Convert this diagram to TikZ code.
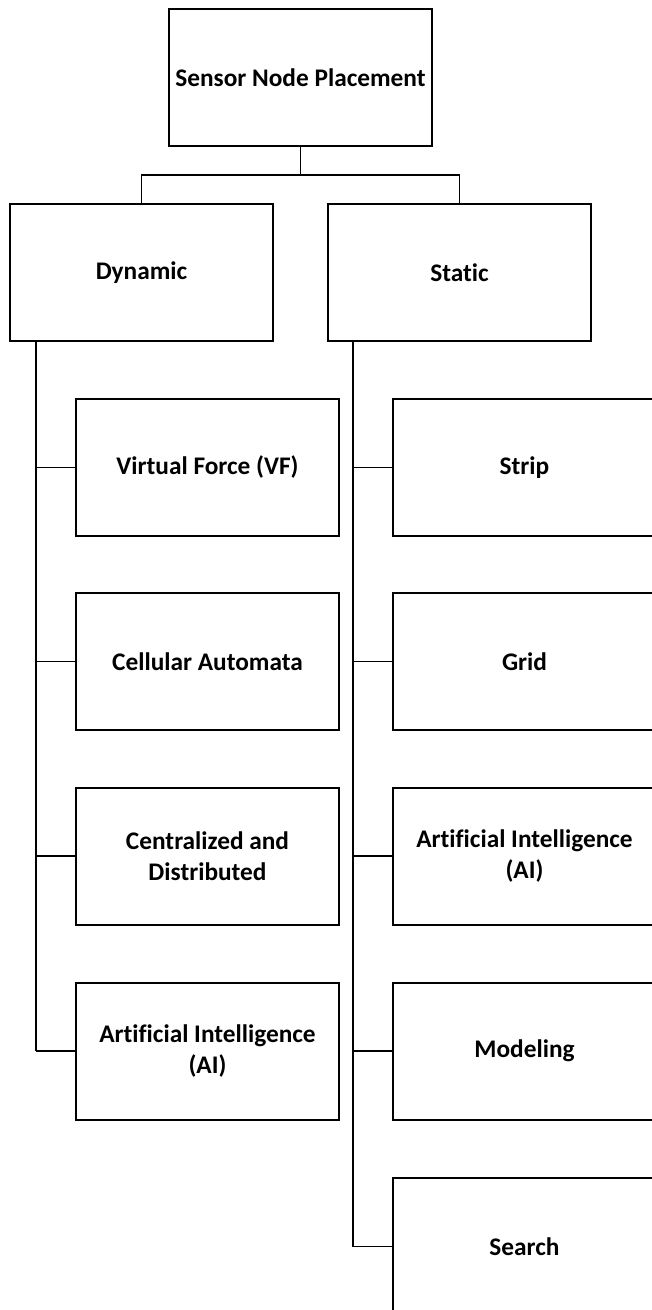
\documentclass[tikz,border=0pt]{standalone}
\usepackage{fontspec}
\setmainfont{Carlito}[RawFeature=-liga]
\usepackage{tikz}
\usetikzlibrary{positioning}

\begin{document}
\begin{tikzpicture}[
    x=0.75pt, y=-0.75pt, % pixel grid, y pointing down
    node font=\fontsize{19}{23.5}\selectfont\bfseries,
    box/.style={draw=black, line width=1.5pt, fill=white, minimum width=197.25pt, minimum height=102.75pt, align=center, inner sep=2pt},
    trunk/.style={line width=1.9pt},
    branch/.style={line width=1.3pt}
]
  \path[use as bounding box, clip] (0,0) rectangle (652,1310);

  % --- ROOT ---
  \node[box] (root) at (300.5,77.5) {Sensor Node Placement};

  % --- SECOND LEVEL ---
  \node[box] (dyn) at (141.5,272.5) {Dynamic};
  \node[box] (stat) at (459.5,272.5) {Static};

  \draw[branch] (root.south) -- ++(0,28) coordinate (fork) -| (dyn.north);
  \draw[branch] (fork) -| (stat.north);

  % --- DYNAMIC CHILDREN ---
  \foreach \name/\ypos/\txt in {1/467.5/{Virtual Force (VF)}, 2/661.5/{Cellular Automata},
      3/856/{Centralized and\\Distributed}, 4/1051/{Artificial Intelligence\\(AI)}}
    \node[box] (dyn\name) at (207.5,\ypos) {\txt};

  \draw[trunk] (dyn.south west) ++(27,0) coordinate (dtrunk) -- (dtrunk |- dyn4.west);
  \foreach \i in {1,...,4}
    \draw[branch] (dtrunk |- dyn\i.west) -- (dyn\i.west);

  % --- STATIC CHILDREN ---
  \foreach \name/\ypos/\txt in {1/467.5/{Strip}, 2/661.5/{Grid}, 3/856/{Artificial Intelligence\\(AI)},
      4/1051/{Modeling}, 5/1246.5/{Search}}
    \node[box] (stat\name) at (524.5,\ypos) {\txt};

  \draw[trunk] (stat.south west) ++(26,0) coordinate (strunk) -- (strunk |- stat5.west);
  \foreach \i in {1,...,5}
    \draw[branch] (strunk |- stat\i.west) -- (stat\i.west);

\end{tikzpicture}
\end{document}
